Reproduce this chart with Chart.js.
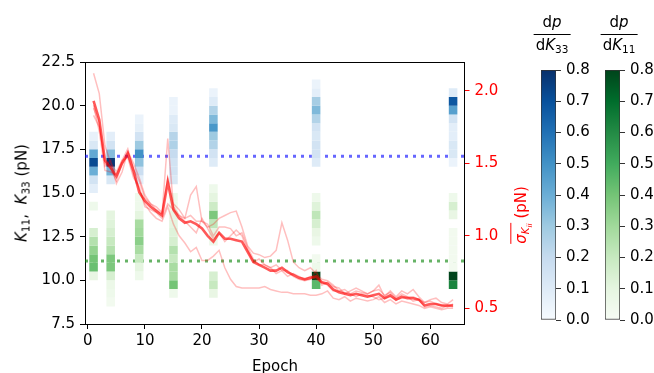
<!DOCTYPE html>
<html><head><meta charset="utf-8">
<script src="https://cdn.jsdelivr.net/npm/chart.js@4/dist/chart.umd.min.js"></script>
<style>
html,body{margin:0;padding:0;background:#fff;}
#wrap{position:relative;width:654px;height:373px;overflow:hidden;font-family:"DejaVu Sans",sans-serif;color:#000;}
canvas{position:absolute;}
.lbl{position:absolute;white-space:nowrap;font-size:15px;line-height:1;}
.rot{transform:translate(-50%,-50%) rotate(-90deg);}
.ctr{transform:translate(-50%,-50%);}
sub{font-size:70%;vertical-align:-0.3em;line-height:0;}
.ov{border-top:1.2px solid red;padding-top:1px;}
.frac{position:absolute;transform:translateX(-50%);display:flex;flex-direction:column;align-items:center;font-size:15px;line-height:1.1;white-space:nowrap;}
.frac .fl{align-self:stretch;height:1.2px;background:#000;margin:3px 0 2px 0;}
.frac .den{padding:0 2px;}
</style></head>
<body><div id="wrap">
<canvas id="main" width="654" height="373" style="left:0;top:0;width:654px;height:373px"></canvas>
<canvas id="cb33" width="55" height="278" style="left:541px;top:56px;width:55px;height:278px"></canvas>
<canvas id="cb11" width="55" height="278" style="left:605px;top:56px;width:55px;height:278px"></canvas>
<div class="lbl rot" style="left:22px;top:193px"><i>K</i><sub>11</sub>,&nbsp; <i>K</i><sub>33</sub> (pN)</div>
<div class="lbl rot" style="left:522px;top:215px;color:red"><span class="ov"><i>σ</i><sub><i>K</i><sub><i>ii</i></sub></sub></span>&nbsp;(pN)</div>
<div class="lbl ctr" style="left:275px;top:366px">Epoch</div>
<div class="frac" style="left:552px;top:14px"><div>d<i>p</i></div><div class="fl"></div><div class="den">d<i>K</i><sub>33</sub></div></div>
<div class="frac" style="left:619px;top:14px"><div>d<i>p</i></div><div class="fl"></div><div class="den">d<i>K</i><sub>11</sub></div></div>
</div>
<script>
// ---------- data ----------
const epochNums = [1,2,3,4,5,6,7,8,9,10,11,12,13,14,15,16,17,18,19,20,21,22,23,24,25,26,27,28,29,30,31,32,33,34,35,36,37,38,39,40,41,42,43,44,45,46,47,48,49,50,51,52,53,54,55,56,57,58,59,60,61,62,63,64];
const sigmaMean = [1.93,1.80,1.52,1.47,1.41,1.50,1.57,1.45,1.30,1.24,
  1.20,1.17,1.14,1.37,1.18,1.12,1.09,1.10,1.08,1.05,
  1.00,0.96,1.02,0.98,0.98,0.97,0.96,0.89,0.82,0.80,
  0.78,0.76,0.76,0.78,0.75,0.73,0.71,0.70,0.71,0.72,
  0.68,0.67,0.63,0.61,0.60,0.59,0.60,0.59,0.58,0.59,
  0.60,0.57,0.59,0.56,0.58,0.57,0.57,0.56,0.52,0.53,
  0.53,0.52,0.52,0.52];
const sigmaRun1 = [2.12,1.98,1.62,1.50,1.44,1.52,1.60,1.46,1.38,1.26,
  1.22,1.18,1.15,1.67,1.20,1.14,1.12,1.28,1.34,1.10,
  1.06,1.08,1.12,1.14,1.16,1.17,1.06,0.93,0.88,0.87,
  0.85,0.86,0.90,1.09,0.97,0.82,0.78,0.76,0.78,0.74,
  0.70,0.69,0.66,0.62,0.63,0.60,0.62,0.61,0.60,0.62,
  0.63,0.59,0.61,0.57,0.60,0.58,0.58,0.56,0.54,0.55,
  0.53,0.52,0.51,0.53];
const sigmaRun2 = [1.83,1.75,1.50,1.46,1.38,1.50,1.55,1.42,1.32,1.22,
  1.16,1.12,1.10,1.20,1.08,1.00,0.95,0.89,0.92,0.83,
  0.83,0.86,0.90,0.78,0.70,0.65,0.64,0.64,0.64,0.64,
  0.65,0.63,0.62,0.61,0.61,0.60,0.60,0.60,0.59,0.59,
  0.60,0.62,0.57,0.56,0.58,0.55,0.57,0.56,0.55,0.56,
  0.58,0.54,0.56,0.53,0.55,0.54,0.53,0.52,0.50,0.51,
  0.50,0.49,0.50,0.50];
const sigmaRun3 = [1.88,1.78,1.48,1.52,1.36,1.44,1.58,1.50,1.40,1.28,
  1.22,1.20,1.16,1.40,1.22,1.18,1.12,1.14,1.10,1.10,
  1.08,1.00,1.06,1.06,1.05,1.00,1.02,0.92,0.84,0.80,
  0.80,0.78,0.80,0.76,0.76,0.72,0.70,0.69,0.70,0.76,
  0.66,0.68,0.65,0.64,0.60,0.62,0.64,0.62,0.60,0.62,
  0.66,0.58,0.62,0.58,0.62,0.60,0.63,0.58,0.54,0.56,
  0.57,0.54,0.53,0.56];
const sigmaRun4 = [1.90,1.72,1.45,1.44,1.42,1.52,1.54,1.40,1.34,1.20,
  1.18,1.16,1.12,1.22,1.18,1.14,1.10,1.06,1.02,1.12,
  1.05,0.98,1.02,0.96,1.00,1.04,1.00,0.90,0.82,0.84,
  0.80,0.78,0.74,0.76,0.72,0.74,0.72,0.70,0.72,0.70,
  0.68,0.66,0.62,0.62,0.61,0.60,0.58,0.60,0.59,0.58,
  0.56,0.57,0.58,0.56,0.57,0.58,0.55,0.56,0.51,0.52,
  0.51,0.50,0.52,0.51];

// heatmap columns (epochs), bin width in pN, first bin per column, densities low->high
const cellEpochs = [1,4,9,15,22,40,64];
const binWidth = 0.5;
const k33Start = [15.0,15.5,15.5,15.5,16.5,16.5,16.5];
const k33Dens = [
  [0.08,0.15,0.40,0.72,0.42,0.12,0.06],
  [0.12,0.38,0.78,0.35,0.15,0.08],
  [0.08,0.18,0.33,0.50,0.30,0.15,0.07,0.05],
  [0.12,0.15,0.15,0.20,0.26,0.24,0.12,0.10,0.05,0.05],
  [0.10,0.15,0.25,0.30,0.48,0.36,0.25,0.10,0.05],
  [0.10,0.15,0.15,0.12,0.15,0.25,0.36,0.28,0.08,0.05],
  [0.05,0.12,0.12,0.08,0.08,0.15,0.45,0.68,0.10]
];
const k11Start = [10.0,8.5,10.0,9.0,9.0,9.5,9.5];
const k11Dens = [
  [0.08,0.42,0.40,0.33,0.25,0.15,0,0,0.05],
  [0.03,0.05,0.06,0.15,0.38,0.38,0.25,0.20,0.15,0.12,0.10],
  [0.05,0.10,0.20,0.28,0.35,0.30,0.28,0.10,0.05,0.05],
  [0.05,0.40,0.28,0.28,0.20,0.25,0.15,0.12,0.10,0.08,0.05,0.05],
  [0.08,0.20,0.15,0,0,0,0.05,0.10,0.22,0.38,0.18,0.10,0.05],
  [0.45,0.80,0.05,0.03,0,0.05,0.08,0.15,0.22,0.12,0.05],
  [0.62,0.82,0.03,0.03,0.03,0.03,0.03,0,0.08,0.15,0.05]
];
const refK33 = 17.1;
const refK11 = 11.1;

const xTicks = [0,10,20,30,40,50,60];
const kTicks = [7.5,10,12.5,15,17.5,20,22.5];
const sigmaTicks = [0.5,1.0,1.5,2.0];
const cbarTicks = [0,0.1,0.2,0.3,0.4,0.5,0.6,0.7,0.8];
const cbarMax = 0.8;
const xMin = -0.5, xMax = 66;

// ---------- colormaps ----------
const BLUES = ['#f7fbff','#deebf7','#c6dbef','#9ecae1','#6baed6','#4292c6','#2171b5','#08519c','#08306b'];
const GREENS = ['#f7fcf5','#e5f5e0','#c7e9c0','#a1d99b','#74c476','#41ab5d','#238b45','#006d2c','#00441b'];
function rgb(h){return [parseInt(h.slice(1,3),16),parseInt(h.slice(3,5),16),parseInt(h.slice(5,7),16)];}
function cmap(stops, v){
  const t = Math.max(0, Math.min(1, v / cbarMax));
  const n = stops.length - 1, p = t * n;
  const i = Math.min(n - 1, Math.floor(p)), f = p - i;
  const a = rgb(stops[i]), b = rgb(stops[i+1]);
  return 'rgb(' + a.map((c,k)=>Math.round(c + (b[k]-c)*f)).join(',') + ')';
}
function cellData(starts, dens){
  const pts = [];
  cellEpochs.forEach((e, ci) => {
    dens[ci].forEach((d, bi) => {
      if (d <= 0) return;
      const lo = starts[ci] + bi * binWidth;
      pts.push({x: e, y: [lo, lo + binWidth], d: d});
    });
  });
  return pts;
}
const series = (arr) => epochNums.map((e,i) => ({x: e, y: arr[i]}));

const FONT = {family: 'DejaVu Sans', size: 15};
Chart.defaults.font.family = 'DejaVu Sans';

const runStyle = {type:'line', yAxisID:'y2', borderColor:'rgba(255,0,0,0.25)', borderWidth:1.5, pointRadius:0, tension:0, order:1};
const cellStyle = {type:'bar', yAxisID:'y', grouped:false, categoryPercentage:1, barPercentage:0.5, borderWidth:0, order:2};

new Chart(document.getElementById('main'), {
  type: 'line',
  data: { datasets: [
    {type:'line', yAxisID:'y2', data: series(sigmaMean), borderColor:'rgba(255,0,0,0.65)', borderWidth:2.6, pointRadius:0, tension:0, order:0},
    Object.assign({data: series(sigmaRun1)}, runStyle),
    Object.assign({data: series(sigmaRun2)}, runStyle),
    Object.assign({data: series(sigmaRun3)}, runStyle),
    Object.assign({data: series(sigmaRun4)}, runStyle),
    Object.assign({data: cellData(k33Start, k33Dens), backgroundColor: ctx => cmap(BLUES, ctx.raw ? ctx.raw.d : 0)}, cellStyle),
    Object.assign({data: cellData(k11Start, k11Dens), backgroundColor: ctx => cmap(GREENS, ctx.raw ? ctx.raw.d : 0)}, cellStyle),
    {type:'line', yAxisID:'y', data:[{x:xMin,y:refK33},{x:xMax,y:refK33}], borderColor:'rgba(0,0,255,0.6)', borderDash:[3,5], borderCapStyle:'butt', borderWidth:3, pointRadius:0, order:3},
    {type:'line', yAxisID:'y', data:[{x:xMin,y:refK11},{x:xMax,y:refK11}], borderColor:'rgba(0,128,0,0.6)', borderDash:[3,5], borderCapStyle:'butt', borderWidth:3, pointRadius:0, order:3}
  ]},
  options: {
    responsive:false, animation:false, devicePixelRatio:1, events:[],
    plugins:{legend:{display:false}, tooltip:{enabled:false}},
    layout:{padding:{left:0, top:62, right:129.5, bottom:0}},
    scales:{
      x:{type:'linear', position:'bottom', min:xMin, max:xMax, offset:false,
        afterBuildTicks: s => { s.ticks = xTicks.map(v => ({value:v})); },
        afterFit: s => { s.height = 49; },
        ticks:{font:FONT, color:'#000', padding:3, maxRotation:0, autoSkip:false, callback: v => String(v)},
        grid:{offset:false, drawOnChartArea:false, drawTicks:true, tickLength:5, color:'#000', lineWidth:1},
        border:{display:true, color:'#000', width:1}},
      xTop:{type:'linear', position:'top', min:xMin, max:xMax, offset:false,
        afterFit: s => { s.height = 0; },
        ticks:{display:false}, grid:{drawOnChartArea:false, drawTicks:false},
        border:{display:true, color:'#000', width:1}},
      y:{type:'linear', position:'left', min:7.5, max:22.5,
        afterBuildTicks: s => { s.ticks = kTicks.map(v => ({value:v})); },
        afterFit: s => { s.width = 85; },
        ticks:{font:FONT, color:'#000', padding:5, callback: v => v.toFixed(1)},
        grid:{drawOnChartArea:false, drawTicks:true, tickLength:5, color:'#000', lineWidth:1},
        border:{display:true, color:'#000', width:1}},
      y2:{type:'linear', position:'right', min:0.392, max:2.198,
        afterBuildTicks: s => { s.ticks = sigmaTicks.map(v => ({value:v})); },
        afterFit: s => { s.width = 60; },
        ticks:{font:FONT, color:'red', padding:5, callback: v => v.toFixed(1)},
        grid:{drawOnChartArea:false, drawTicks:true, tickLength:5, color:'red', lineWidth:1},
        border:{display:true, color:'#000', width:1}}
    }
  }
});

function makeCbar(id, stops){
  new Chart(document.getElementById(id), {
    type:'bar',
    data:{labels:[''], datasets:[{
      data:[[0, cbarMax]],
      backgroundColor: ctx => {
        const a = ctx.chart.chartArea;
        if (!a) return stops[4];
        const g = ctx.chart.ctx.createLinearGradient(0, a.bottom, 0, a.top);
        stops.forEach((c,i) => g.addColorStop(i/(stops.length-1), c));
        return g;
      },
      borderColor:'#333', borderWidth:1, borderSkipped:false, categoryPercentage:1, barPercentage:1
    }]},
    options:{
      responsive:false, animation:false, devicePixelRatio:1, events:[],
      plugins:{legend:{display:false}, tooltip:{enabled:false}},
      layout:{padding:{top:10, bottom:11, left:0, right:0}},
      scales:{
        x:{display:false},
        y:{position:'right', min:0, max:cbarMax,
          afterBuildTicks: s => { s.ticks = cbarTicks.map(v => ({value:v})); },
          afterFit: s => { s.width = 40; },
          ticks:{font:FONT, color:'#000', padding:5, callback: v => v.toFixed(1)},
          grid:{drawOnChartArea:false, drawTicks:true, tickLength:5, color:'#333'},
          border:{display:false}}
      }
    }
  });
}
makeCbar('cb33', BLUES);
makeCbar('cb11', GREENS);
</script>
</body></html>
